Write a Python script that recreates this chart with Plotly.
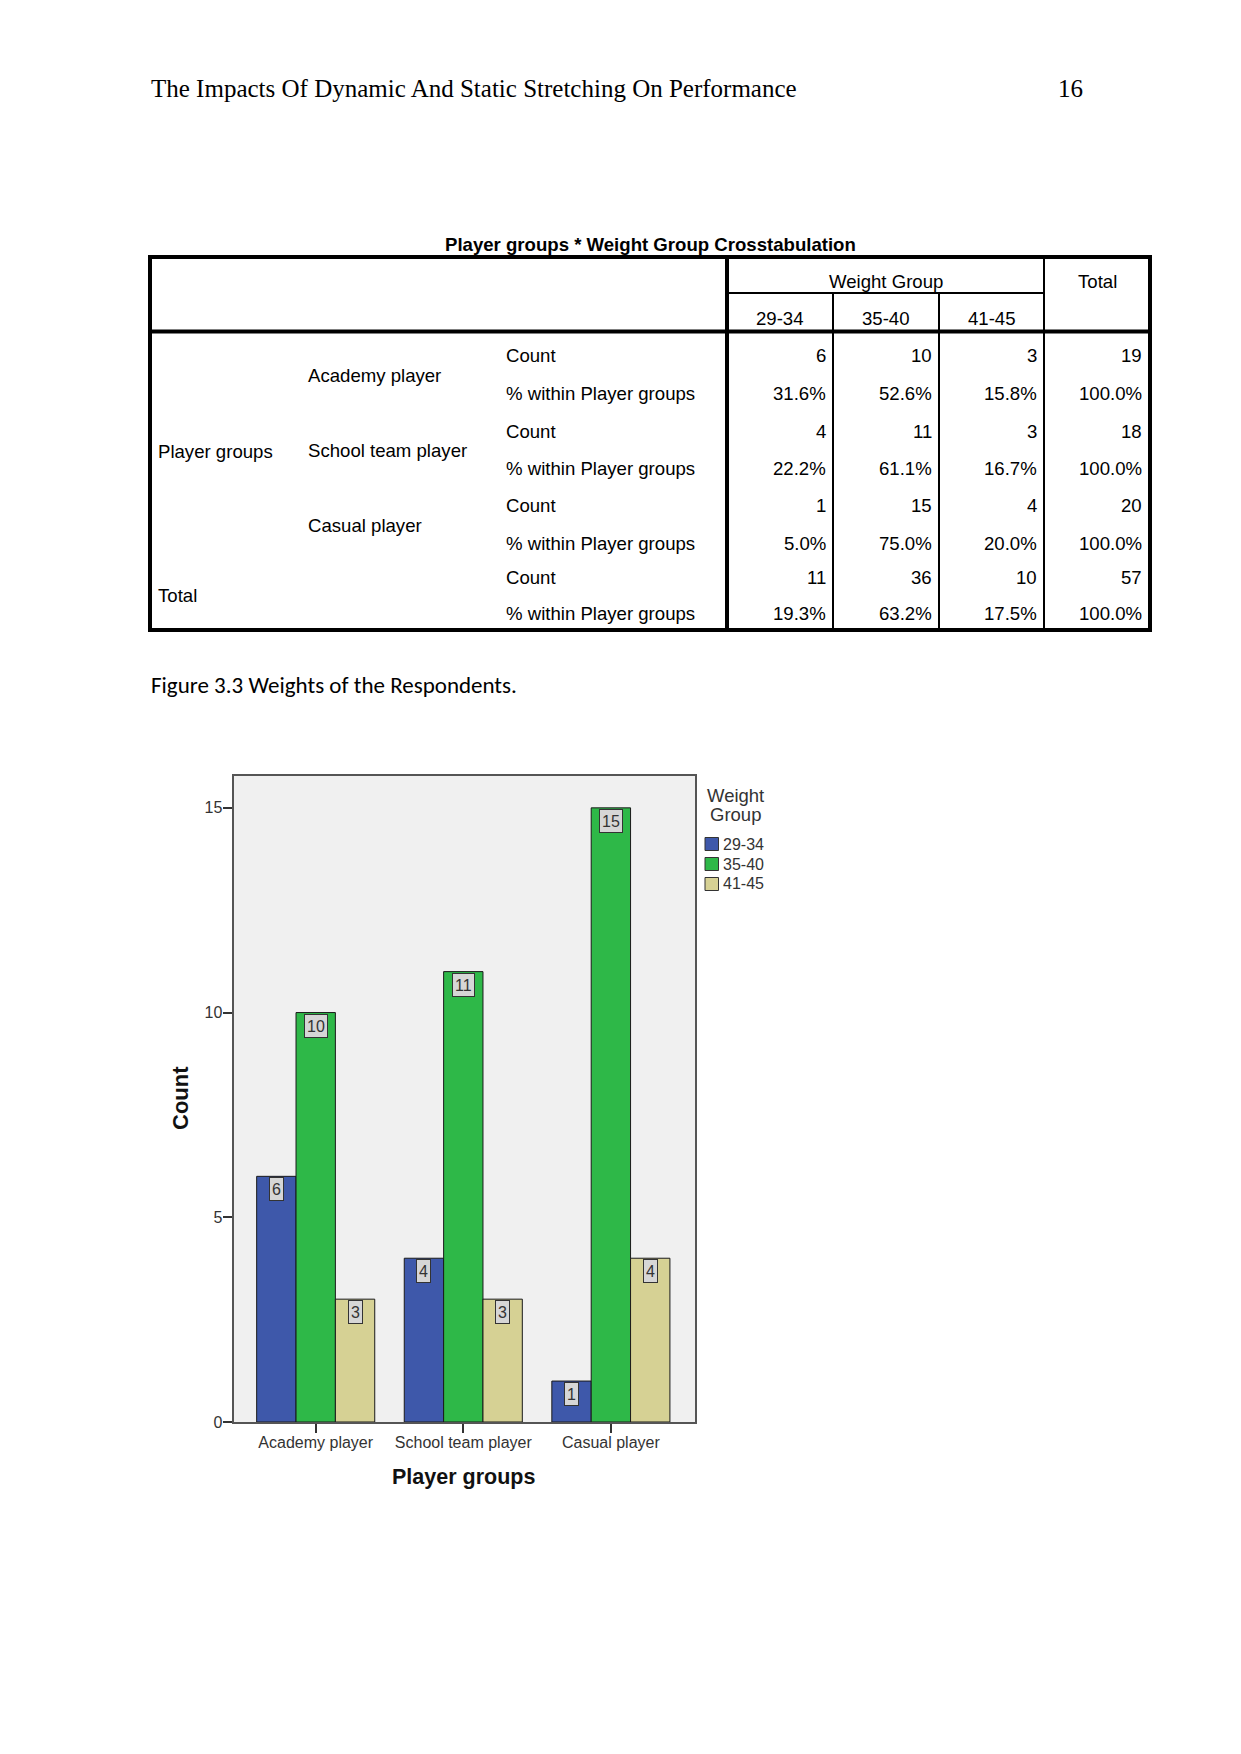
import plotly.graph_objects as go

# ---------------- data ----------------
player_groups = ["Academy player", "School team player", "Casual player"]
weight_groups = ["29-34", "35-40", "41-45"]
count_29_34 = [6, 4, 1]
count_35_40 = [10, 11, 15]
count_41_45 = [3, 3, 4]
pct_29_34 = ["31.6%", "22.2%", "5.0%"]
pct_35_40 = ["52.6%", "61.1%", "75.0%"]
pct_41_45 = ["15.8%", "16.7%", "20.0%"]
row_totals = [19, 18, 20]
total_counts = [11, 36, 10, 57]
total_pcts = ["19.3%", "63.2%", "17.5%", "100.0%"]
y_ticks = [0, 5, 10, 15]

header_text = "The Impacts Of Dynamic And Static Stretching On Performance"
page_number = "16"
table_title = "Player groups * Weight Group Crosstabulation"
caption = "Figure 3.3 Weights of the Respondents."

bar_colors = ["#3E58AA", "#2EB848", "#D6D194"]

# ---------------- helpers ----------------
W, H = 1241, 1754


def px(x):
    return x / W


def py(y):
    return 1 - y / H


fig = go.Figure()

series = [count_29_34, count_35_40, count_41_45]
for name, vals, col in zip(weight_groups, series, bar_colors):
    fig.add_trace(go.Bar(
        x=player_groups, y=vals, name=name,
        marker=dict(color=col, line=dict(color="#1a1a1a", width=1)),
        showlegend=False, hoverinfo="skip"))

bargap = 0.2
n = len(series)
w = (1 - bargap) / n
annotations = []
for j, vals in enumerate(series):
    for i, v in enumerate(vals):
        annotations.append(dict(
            x=i + (j - (n - 1) / 2) * w, y=v, xref="x", yref="y",
            text=str(v), showarrow=False, yanchor="top", yshift=-1,
            height=18,
            font=dict(family="Liberation Sans, Arial", size=16, color="#333"),
            bgcolor="#D6D6D6", bordercolor="#333", borderwidth=1, borderpad=2))

FONT_SANS = "Liberation Sans, Arial"


def txt(x, y, s, size=18.6, xanchor="left", bold=False, family=FONT_SANS,
        color="black", angle=0, yanchor="middle", align="left"):
    annotations.append(dict(
        x=px(x), y=py(y), xref="paper", yref="paper", text=(f"<b>{s}</b>" if bold else s),
        showarrow=False, xanchor=xanchor, yanchor=yanchor, textangle=angle, align=align,
        font=dict(family=family, size=size, color=color)))


# page header
txt(149, 89, header_text, size=25, family="Liberation Serif, Times New Roman")
txt(1085, 89, page_number, size=25, xanchor="right", family="Liberation Serif, Times New Roman")

# table title
txt(650, 244, table_title, size=18.6, xanchor="center", bold=True)

# table header
txt(885.5, 281.5, "Weight Group", xanchor="center")
txt(1097, 281.5, "Total", xanchor="center")
col_centers = [780, 886, 991.5]
for c, wg in zip(col_centers, weight_groups):
    txt(c, 318.5, wg, xanchor="center")

# table body
col_right = [827.5, 933.5, 1038.5, 1144]
row_y = [356, 393, 431, 468, 506, 543]
for g in range(3):
    yc, yp = row_y[2 * g], row_y[2 * g + 1]
    txt(306, (yc + yp) / 2 + 1, player_groups[g])
    txt(504, yc, "Count")
    txt(504, yp, "% within Player groups")
    counts = [count_29_34[g], count_35_40[g], count_41_45[g], row_totals[g]]
    pcts = [pct_29_34[g], pct_35_40[g], pct_41_45[g], "100.0%"]
    for k in range(4):
        txt(col_right[k], yc, str(counts[k]), xanchor="right")
        txt(col_right[k], yp, pcts[k], xanchor="right")
txt(156, 451, "Player groups")
txt(156, 595, "Total")
txt(504, 577, "Count")
txt(504, 614, "% within Player groups")
for k in range(4):
    txt(col_right[k], 577, str(total_counts[k]), xanchor="right")
    txt(col_right[k], 614, total_pcts[k], xanchor="right")

# caption
txt(149, 685, caption, size=23, family="Carlito, Lato, Calibri")

# axis titles
txt(180, 1098, "Count", size=22, xanchor="center", bold=True, angle=-90, color="#111")
txt(463, 1477, "Player groups", size=21.5, xanchor="center", bold=True, color="#111")

# legend (manual, SPSS style)
txt(735, 795, "Weight", size=18.5, xanchor="center", color="#333")
txt(735, 814, "Group", size=18.5, xanchor="center", color="#333")
leg_y = [844, 864, 884]
shapes = []
for wg, col, ly in zip(weight_groups, bar_colors, leg_y):
    shapes.append(dict(type="rect", xref="paper", yref="paper",
                       x0=px(705), x1=px(718.5), y0=py(ly + 6.5), y1=py(ly - 6.5),
                       fillcolor=col, line=dict(color="#333", width=1)))
    txt(721, ly, wg, size=16, color="#333")


def hline(y, x0, x1, width):
    shapes.append(dict(type="line", xref="paper", yref="paper", x0=px(x0), x1=px(x1),
                       y0=py(y), y1=py(y), line=dict(color="black", width=width)))


def vline(x, y0, y1, width):
    shapes.append(dict(type="line", xref="paper", yref="paper", x0=px(x), x1=px(x),
                       y0=py(y0), y1=py(y1), line=dict(color="black", width=width)))


# table grid
T_L, T_R, T_T, T_B = 150, 1150, 257, 630
hline(T_T, T_L - 2, T_R + 2, 4)
hline(T_B, T_L - 2, T_R + 2, 4)
vline(T_L, T_T, T_B, 4)
vline(T_R, T_T, T_B, 4)
hline(331.5, T_L, T_R, 4)
vline(727, T_T, T_B, 4)
hline(293, 727, 1044, 2)
vline(833, 293, T_B, 2)
vline(939, 293, T_B, 2)
vline(1044, T_T, T_B, 2)

fig.update_layout(
    width=W, height=H, margin=dict(l=0, r=0, t=0, b=0, autoexpand=False),
    paper_bgcolor="white", plot_bgcolor="#F0F0F0",
    barmode="group", bargap=bargap, bargroupgap=0,
    annotations=annotations, shapes=shapes,
    xaxis=dict(domain=[px(233.5), px(695)], range=[-0.557, 2.57], automargin=False,
               showline=True, linecolor="#555", linewidth=2, mirror=True,
               ticks="outside", ticklen=9, tickcolor="#333", tickwidth=2,
               ticklabelstandoff=-4,
               tickfont=dict(family=FONT_SANS, size=16, color="#333"),
               showgrid=False, zeroline=False, fixedrange=True),
    yaxis=dict(domain=[py(1422), py(775.5)], range=[0, 15.79], automargin=False,
               tickvals=y_ticks, showline=True, linecolor="#555", linewidth=2, mirror=True,
               ticks="outside", ticklen=9, tickcolor="#333", tickwidth=2,
               ticklabelstandoff=-3,
               tickfont=dict(family=FONT_SANS, size=16, color="#333"),
               showgrid=False, zeroline=False, fixedrange=True),
)

fig.write_html("out.html")
